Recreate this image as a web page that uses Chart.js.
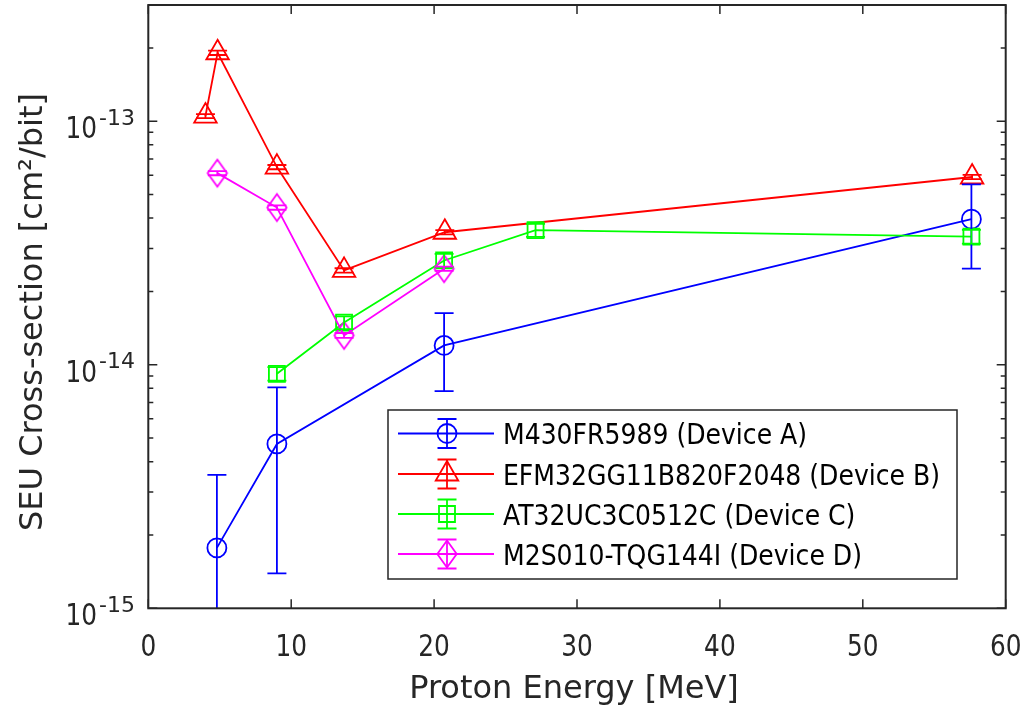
<!DOCTYPE html>
<html>
<head>
<meta charset="utf-8">
<title>SEU Cross-section</title>
<script src="https://cdn.jsdelivr.net/npm/chart.js@4.4.1/dist/chart.umd.min.js"></script>
<style>
  html, body { margin: 0; padding: 0; background: #fff; }
  #wrap { width: 1028px; height: 713px; }
</style>
</head>
<body>
<div id="wrap"><canvas id="seuChart" width="1028" height="713"></canvas></div>
<script>
// 축 / 눈금
const xTicks = [0, 10, 20, 30, 40, 50, 60];
const yDecades = [1e-15, 1e-14, 1e-13];
const yMin = 1e-15;
const yMax = 3e-13;

// 범례
const legendNames = [
  'M430FR5989 (Device A)',
  'EFM32GG11B820F2048 (Device B)',
  'AT32UC3C0512C (Device C)',
  'M2S010-TQG144I (Device D)'
];
const seriesColors = ['#0000ff', '#ff0000', '#00ff00', '#ff00ff'];

// Device A
const energyA = [4.8, 9.0, 20.7, 57.6];
const sigmaA = [1.77e-15, 4.73e-15, 1.2e-14, 3.96e-14];
const lowerA = [1e-16, 1.39e-15, 7.8e-15, 2.48e-14];
const upperA = [3.53e-15, 8.08e-15, 1.63e-14, 5.5e-14];

// Device B
const energyB = [4.0, 4.85, 9.0, 13.7, 20.75, 57.65];
const sigmaB = [1.05e-13, 1.91e-13, 6.48e-14, 2.44e-14, 3.5e-14, 5.9e-14];
const lowerB = [1.03e-13, 1.87e-13, 6.35e-14, 2.39e-14, 3.43e-14, 5.78e-14];
const upperB = [1.07e-13, 1.95e-13, 6.61e-14, 2.49e-14, 3.57e-14, 6.02e-14];

// Device C
const energyC = [9.0, 13.7, 20.7, 27.1, 57.6];
const sigmaC = [9.18e-15, 1.49e-14, 2.68e-14, 3.57e-14, 3.36e-14];
const lowerC = [8.6e-15, 1.4e-14, 2.52e-14, 3.35e-14, 3.14e-14];
const upperC = [9.78e-15, 1.58e-14, 2.85e-14, 3.79e-14, 3.58e-14];

// Device D
const energyD = [4.83, 9.0, 13.7, 20.7];
const sigmaD = [6.12e-14, 4.42e-14, 1.32e-14, 2.48e-14];
const lowerD = [6.0e-14, 4.33e-14, 1.29e-14, 2.43e-14];
const upperD = [6.24e-14, 4.51e-14, 1.35e-14, 2.53e-14];

const energies = [energyA, energyB, energyC, energyD];
const sigmas = [sigmaA, sigmaB, sigmaC, sigmaD];
const lowers = [lowerA, lowerB, lowerC, lowerD];
const uppers = [upperA, upperB, upperC, upperD];

const axisColor = '#262626';
const fontName = '"DejaVu Sans", Verdana, sans-serif';
const capHalf = 9.5;
const lineW = 1.8;

// 글자 가로 압축해서 그리기 (MATLAB 글꼴이 좁음)
function squeezeText(ctx, text, x, y, squeeze) {
  const w = ctx.measureText(text).width;
  ctx.fillText(text, x, y, w * squeeze);
}

// MATLAB 다이아몬드 마커 (세로로 긴 모양)
function makeDiamond(color) {
  const c = document.createElement('canvas');
  c.width = 24; c.height = 32;
  const g = c.getContext('2d');
  g.strokeStyle = color;
  g.lineWidth = lineW;
  g.beginPath();
  g.moveTo(12, 2.5);
  g.lineTo(21.7, 16);
  g.lineTo(12, 29.5);
  g.lineTo(2.3, 16);
  g.closePath();
  g.stroke();
  return c;
}
const diamondMarker = makeDiamond(seriesColors[3]);

const markerStyles = ['circle', 'triangle', 'rect', diamondMarker];
const markerRadius = [9.5, 13, 11.3, 12];

const datasets = legendNames.map((name, k) => ({
  label: name,
  data: energies[k].map((e, i) => ({ x: e, y: sigmas[k][i] })),
  borderColor: seriesColors[k],
  borderWidth: lineW,
  pointStyle: markerStyles[k],
  pointRadius: markerRadius[k],
  pointBorderColor: seriesColors[k],
  pointBackgroundColor: 'rgba(0,0,0,0)',
  pointBorderWidth: lineW,
  tension: 0,
  fill: false,
  order: 4 - k
}));

// 에러바
const errorBarPlugin = {
  id: 'errorBars',
  afterDatasetsDraw(chart) {
    const { ctx, chartArea: a, scales: { x, y } } = chart;
    ctx.save();
    ctx.beginPath();
    ctx.rect(a.left, a.top, a.right - a.left, a.bottom - a.top);
    ctx.clip();
    ctx.lineWidth = lineW;
    energies.forEach((list, k) => {
      ctx.strokeStyle = seriesColors[k];
      list.forEach((e, i) => {
        const px = x.getPixelForValue(e);
        const hi = y.getPixelForValue(uppers[k][i]);
        const lo = y.getPixelForValue(lowers[k][i]);
        ctx.beginPath();
        ctx.moveTo(px, hi); ctx.lineTo(px, lo);
        ctx.moveTo(px - capHalf, hi); ctx.lineTo(px + capHalf, hi);
        ctx.moveTo(px - capHalf, lo); ctx.lineTo(px + capHalf, lo);
        ctx.stroke();
      });
    });
    ctx.restore();
  }
};

// 테두리, 눈금, 라벨, 범례
const framePlugin = {
  id: 'matlabFrame',
  afterDraw(chart) {
    const { ctx, chartArea: a, scales: { x, y } } = chart;
    ctx.save();
    ctx.strokeStyle = axisColor;
    ctx.fillStyle = axisColor;
    ctx.lineWidth = 1.5;

    // 눈금
    ctx.beginPath();
    xTicks.forEach(v => {
      const px = x.getPixelForValue(v);
      ctx.moveTo(px, a.bottom); ctx.lineTo(px, a.bottom - 9);
      ctx.moveTo(px, a.top); ctx.lineTo(px, a.top + 9);
    });
    yDecades.forEach(d => {
      for (let m = 1; m <= 9; m++) {
        const v = d * m;
        if (v > yMax * 1.0001) break;
        const py = y.getPixelForValue(v);
        const len = m === 1 ? 9 : 5;
        ctx.moveTo(a.left, py); ctx.lineTo(a.left + len, py);
        ctx.moveTo(a.right, py); ctx.lineTo(a.right - len, py);
      }
    });
    ctx.stroke();

    // 외곽선
    ctx.lineWidth = 2;
    ctx.strokeRect(a.left, a.top, a.right - a.left, a.bottom - a.top);

    // x 눈금 라벨
    ctx.font = '31px ' + fontName;
    ctx.textAlign = 'center';
    ctx.textBaseline = 'alphabetic';
    xTicks.forEach(v => squeezeText(ctx, String(v), x.getPixelForValue(v), 656, 0.8));

    // y 눈금 라벨 (10^n)
    yDecades.forEach(d => {
      const py = y.getPixelForValue(d);
      const exp = String(Math.round(Math.log10(d)));
      ctx.font = '22px ' + fontName;
      const ew = ctx.measureText(exp).width;
      ctx.textAlign = 'right';
      ctx.fillText(exp, 135, py + 3.4);
      ctx.font = '31px ' + fontName;
      squeezeText(ctx, '10', 135 - ew - 2, py + 17, 0.8);
    });

    // 축 제목
    ctx.font = '32px ' + fontName;
    ctx.textAlign = 'center';
    ctx.fillText('Proton Energy [MeV]', 574, 698);
    ctx.save();
    ctx.translate(42, 312);
    ctx.rotate(-Math.PI / 2);
    ctx.fillText('SEU Cross-section [cm\u00b2/bit]', 0, 0);
    ctx.restore();

    // 범례
    const bx = 388, by = 410, bw = 569, bh = 169;
    ctx.lineWidth = 1.5;
    ctx.fillStyle = '#ffffff';
    ctx.fillRect(bx, by, bw, bh);
    ctx.strokeStyle = axisColor;
    ctx.strokeRect(bx, by, bw, bh);
    const rows = [433.5, 474, 514, 554];
    const mx = 447;
    rows.forEach((ry, k) => {
      ctx.strokeStyle = seriesColors[k];
      ctx.lineWidth = lineW;
      ctx.beginPath();
      ctx.moveTo(398, ry); ctx.lineTo(494, ry);
      ctx.moveTo(mx, ry - 14.5); ctx.lineTo(mx, ry + 14.5);
      ctx.moveTo(mx - capHalf, ry - 14.5); ctx.lineTo(mx + capHalf, ry - 14.5);
      ctx.moveTo(mx - capHalf, ry + 14.5); ctx.lineTo(mx + capHalf, ry + 14.5);
      ctx.stroke();
      if (k === 3) {
        ctx.drawImage(diamondMarker, mx - 12, ry - 16);
      } else {
        ctx.fillStyle = 'rgba(0,0,0,0)';
        Chart.helpers.drawPoint(ctx, {
          pointStyle: markerStyles[k], radius: markerRadius[k], rotation: 0, borderWidth: lineW
        }, mx, ry);
      }
      ctx.fillStyle = '#000000';
      ctx.font = '29px ' + fontName;
      ctx.textAlign = 'left';
      squeezeText(ctx, legendNames[k], 503, ry + 10.5, 0.866);
    });
    ctx.restore();
  }
};

new Chart(document.getElementById('seuChart'), {
  type: 'line',
  data: { datasets: datasets },
  options: {
    responsive: false,
    animation: false,
    devicePixelRatio: 1,
    events: [],
    layout: { autoPadding: false, padding: { left: 148.3, right: 22.3, top: 5, bottom: 104.7 } },
    scales: {
      x: { type: 'linear', min: 0, max: 60, display: false },
      y: { type: 'logarithmic', min: yMin, max: yMax, bounds: 'data', display: false }
    },
    plugins: {
      legend: { display: false },
      tooltip: { enabled: false }
    }
  },
  plugins: [errorBarPlugin, framePlugin]
});
</script>
</body>
</html>
